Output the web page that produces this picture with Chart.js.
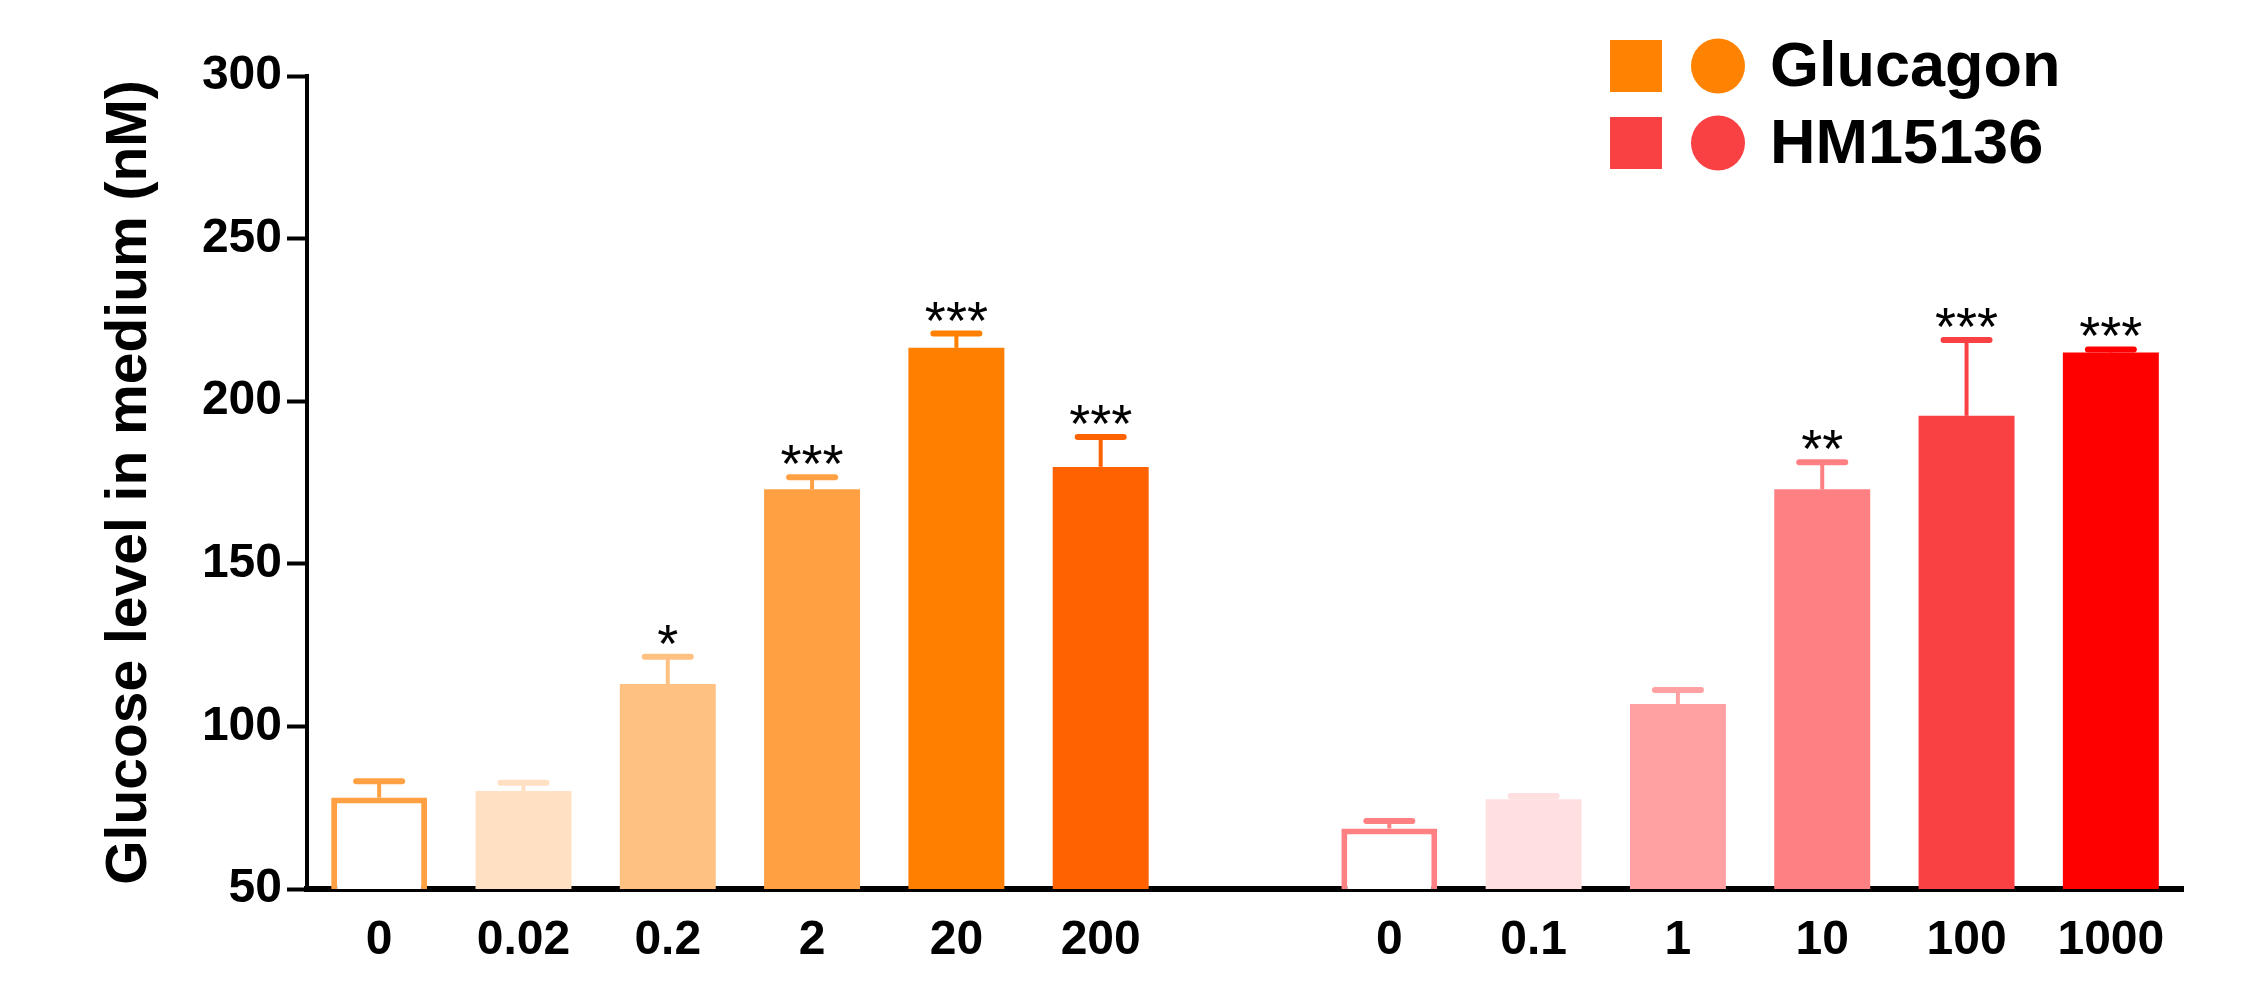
<!DOCTYPE html>
<html>
<head>
<meta charset="utf-8">
<title>Glucose level in medium</title>
<script src="https://cdn.jsdelivr.net/npm/chart.js@4/dist/chart.umd.min.js"></script>
<style>
  html, body { margin: 0; padding: 0; background: #ffffff; }
  #wrap { width: 2245px; height: 1003px; position: relative; }
</style>
</head>
<body>
<div id="wrap"><canvas id="chart" width="2245" height="1003"></canvas></div>
<script>
// ---- data ----
const glucagonDoses = ['0', '0.02', '0.2', '2', '20', '200'];
const hmDoses = ['0', '0.1', '1', '10', '100', '1000'];
const categories = [...glucagonDoses, '', ...hmDoses];

const glucagonMean = [78.1, 80.1, 113.0, 172.9, 216.4, 179.8];
const glucagonSem = [5.0, 2.6, 8.4, 3.7, 4.4, 9.2];
const glucagonStars = ['', '', '*', '***', '***', '***'];

const hmMean = [68.6, 77.6, 106.9, 172.9, 195.5, 215.0];
const hmSem = [2.3, 1.0, 4.3, 8.3, 23.3, 0.9];
const hmStars = ['', '', '', '**', '***', '***'];

const yTicks = [50, 100, 150, 200, 250, 300];

// ---- styles ----
const FONT = '"Liberation Sans", Arial, Helvetica, sans-serif';
const glucagonFill = ['#FFFFFF', '#FFE0C2', '#FFC182', '#FFA142', '#FF8000', '#FF6200'];
const glucagonEdge = ['#FFA142', '#FFE0C2', '#FFC182', '#FFA142', '#FF8000', '#FF6200'];
const hmFill = ['#FFFFFF', '#FFDFE0', '#FFA1A3', '#FF8083', '#F94144', '#FF0000'];
const hmEdge = ['#FF8083', '#FFDFE0', '#FFA1A3', '#FF8083', '#F94144', '#FF0000'];
const legendColors = ['#FF8200', '#F94144'];

const nGap = categories.length - glucagonDoses.length - hmDoses.length;

// Each series occupies its own block of categories; the other block is null.
const seriesDefs = [
  { label: 'Glucagon', mean: glucagonMean, sem: glucagonSem, stars: glucagonStars,
    fill: glucagonFill, edge: glucagonEdge, offset: 0 },
  { label: 'HM15136', mean: hmMean, sem: hmSem, stars: hmStars,
    fill: hmFill, edge: hmEdge, offset: glucagonDoses.length + nGap }
];

function expand(arr, offset, fillValue) {
  const out = Array(categories.length).fill(fillValue);
  arr.forEach((v, i) => { out[offset + i] = v; });
  return out;
}

const datasets = seriesDefs.map(s => ({
  label: s.label,
  data: expand(s.mean, s.offset, null),
  backgroundColor: expand(s.fill, s.offset, 'rgba(0,0,0,0)'),
  borderColor: expand(s.edge, s.offset, 'rgba(0,0,0,0)'),
  borderWidth: expand(s.fill.map(c => c === '#FFFFFF' ? 6 : 0), s.offset, 0),
  borderSkipped: 'bottom',
  skipNull: true,
  barPercentage: 0.665,
  categoryPercentage: 1.0
}));

// Upward SEM bars with caps, plus significance asterisks above them.
const errorBarPlugin = {
  id: 'errorBars',
  afterDatasetsDraw(chart) {
    const ctx = chart.ctx;
    const yScale = chart.scales.y;
    seriesDefs.forEach((s, di) => {
      const meta = chart.getDatasetMeta(di);
      s.mean.forEach((m, i) => {
        const el = meta.data[s.offset + i];
        if (!el) return;
        const x = el.x;
        const yTop = yScale.getPixelForValue(m);
        const yCap = yScale.getPixelForValue(m + s.sem[i]);
        ctx.save();
        ctx.strokeStyle = s.edge[i];
        ctx.lineCap = 'butt';
        ctx.lineWidth = 4;
        ctx.beginPath();
        ctx.moveTo(x, yTop);
        ctx.lineTo(x, yCap);
        ctx.stroke();
        ctx.lineCap = 'round';
        ctx.lineWidth = 6;
        ctx.beginPath();
        ctx.moveTo(x - 23, yCap);
        ctx.lineTo(x + 23, yCap);
        ctx.stroke();
        if (s.stars[i]) {
          ctx.fillStyle = '#000000';
          ctx.font = '54px ' + FONT;
          ctx.textAlign = 'center';
          ctx.textBaseline = 'alphabetic';
          ctx.fillText(s.stars[i], x, yCap + 5);
        }
        ctx.restore();
      });
    });
  }
};

// Legend: filled square and filled circle in the series colour, then its name.
const legendPlugin = {
  id: 'squareCircleLegend',
  afterDraw(chart) {
    const ctx = chart.ctx;
    ctx.save();
    chart.data.datasets.forEach((ds, i) => {
      const top = 40 + i * 77;
      ctx.fillStyle = legendColors[i];
      ctx.fillRect(1610, top, 52, 52);
      ctx.beginPath();
      ctx.ellipse(1718, top + 26, 27, 27.5, 0, 0, Math.PI * 2);
      ctx.fill();
      ctx.fillStyle = '#000000';
      ctx.font = 'bold 63px ' + FONT;
      ctx.textAlign = 'left';
      ctx.textBaseline = 'alphabetic';
      ctx.fillText(ds.label, 1770, top + 45.5);
    });
    ctx.restore();
  }
};

new Chart(document.getElementById('chart'), {
  type: 'bar',
  data: { labels: categories, datasets },
  options: {
    responsive: false,
    animation: false,
    devicePixelRatio: 1,
    layout: { padding: { top: 76, right: 62, left: 0, bottom: 0 } },
    plugins: {
      legend: { display: false },
      tooltip: { enabled: false }
    },
    scales: {
      x: {
        offset: true,
        grid: { display: false, drawTicks: false },
        border: { display: true, color: '#000000', width: 6 },
        ticks: {
          color: '#000000',
          font: { family: FONT, size: 48, weight: 'bold' },
          padding: 23,
          maxRotation: 0,
          autoSkip: false
        },
        afterFit(scale) { scale.height = 114; }
      },
      y: {
        min: yTicks[0],
        max: yTicks[yTicks.length - 1],
        afterBuildTicks(scale) { scale.ticks = yTicks.map(v => ({ value: v })); },
        grid: {
          display: true,
          drawOnChartArea: false,
          drawTicks: true,
          tickLength: 20,
          tickWidth: 4,
          tickColor: '#000000'
        },
        border: { display: true, color: '#000000', width: 4 },
        ticks: {
          color: '#000000',
          font: { family: FONT, size: 48, weight: 'bold' },
          padding: 5
        },
        title: {
          display: true,
          text: 'Glucose level in medium (nM)',
          color: '#000000',
          font: { family: FONT, size: 57, weight: 'bold' },
          padding: { top: 96, bottom: 0 }
        },
        afterFit(scale) { scale.width = 307; }
      }
    }
  },
  plugins: [errorBarPlugin, legendPlugin]
});
</script>
</body>
</html>
